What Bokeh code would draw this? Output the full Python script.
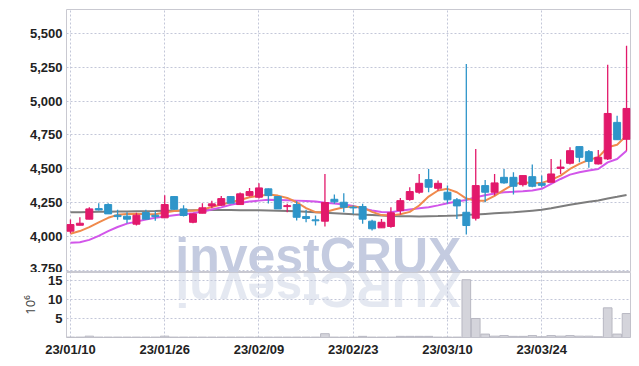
import math
from bokeh.plotting import figure
from bokeh.models import ColumnDataSource, FixedTicker, NumeralTickFormatter, Range1d, Label
from bokeh.layouts import column
from bokeh.embed import file_html
from bokeh.resources import INLINE
from bokeh.core.properties import value

# ---------------- data ----------------
dates = ["23/01/10", "23/01/11", "23/01/12", "23/01/13", "23/01/16", "23/01/17", "23/01/18", "23/01/19", "23/01/20", "23/01/25",
         "23/01/26", "23/01/27", "23/01/30", "23/01/31", "23/02/01", "23/02/02", "23/02/03", "23/02/06", "23/02/07", "23/02/08",
         "23/02/09", "23/02/10", "23/02/13", "23/02/14", "23/02/15", "23/02/16", "23/02/17", "23/02/20", "23/02/21", "23/02/22",
         "23/02/23", "23/02/24", "23/02/27", "23/02/28", "23/03/02", "23/03/03", "23/03/06", "23/03/07", "23/03/08", "23/03/09",
         "23/03/10", "23/03/13", "23/03/14", "23/03/15", "23/03/16", "23/03/17", "23/03/20", "23/03/21", "23/03/22", "23/03/23",
         "23/03/24", "23/03/27", "23/03/28", "23/03/29", "23/03/30", "23/03/31", "23/04/03", "23/04/04", "23/04/05", "23/04/06"]

opens = [4039, 4083, 4128, 4206, 4236, 4157, 4150, 4091, 4177, 4157,
         4138, 4295, 4204, 4105, 4172, 4226, 4231, 4295, 4236, 4302,
         4290, 4352, 4295, 4221, 4236, 4147, 4123, 4113, 4275, 4253,
         4216, 4221, 4113, 4064, 4074, 4192, 4273, 4327, 4420, 4356,
         4327, 4271, 4179, 4135, 4376, 4327, 4437, 4437, 4383, 4442,
         4393, 4400, 4503, 4541, 4664, 4627, 4536, 4573, 4843, 4718]
highs = [4125, 4142, 4216, 4246, 4246, 4197, 4179, 4175, 4197, 4190,
         4305, 4300, 4231, 4170, 4246, 4265, 4300, 4300, 4325, 4359,
         4393, 4355, 4300, 4241, 4260, 4197, 4155, 4462, 4310, 4319,
         4229, 4241, 4123, 4130, 4216, 4285, 4364, 4462, 4499, 4413,
         4376, 4285, 5274, 4647, 4418, 4462, 4499, 4474, 4450, 4531,
         4450, 4573, 4568, 4659, 4664, 4639, 4639, 5269, 4892, 5409]
lows = [4022, 4083, 4128, 4192, 4167, 4123, 4098, 4081, 4125, 4116,
        4138, 4195, 4147, 4098, 4172, 4209, 4226, 4246, 4236, 4295,
        4280, 4243, 4204, 4179, 4118, 4105, 4081, 4074, 4241, 4179,
        4167, 4094, 4044, 4064, 4064, 4162, 4265, 4315, 4327, 4339,
        4241, 4130, 4015, 4118, 4253, 4302, 4389, 4310, 4369, 4364,
        4364, 4400, 4462, 4531, 4548, 4507, 4531, 4566, 4713, 4634]
closes = [4088, 4098, 4204, 4196, 4167, 4147, 4128, 4157, 4128, 4147,
          4236, 4201, 4155, 4167, 4212, 4241, 4280, 4246, 4315, 4332,
          4359, 4302, 4204, 4228, 4142, 4133, 4116, 4251, 4256, 4216,
          4211, 4128, 4057, 4105, 4175, 4265, 4332, 4393, 4364, 4393,
          4271, 4226, 4081, 4376, 4327, 4396, 4396, 4371, 4450, 4371,
          4378, 4462, 4513, 4634, 4585, 4555, 4585, 4909, 4715, 4946]

ma_short = [4020, 4040, 4069, 4105, 4138, 4160, 4167, 4168, 4165, 4165,
            4178, 4188, 4192, 4190, 4200, 4218, 4237, 4253, 4270, 4290,
            4300, 4310, 4302, 4285, 4253, 4210, 4180, 4179, 4199, 4216,
            4221, 4215, 4182, 4158, 4155, 4165, 4182, 4229, 4295, 4340,
            4352, 4327, 4280, 4265, 4265, 4300, 4345, 4385, 4400, 4396,
            4396, 4418, 4450, 4499, 4536, 4566, 4585, 4659, 4678, 4745]
ma_mid = [3953, 3958, 3975, 4005, 4040, 4070, 4095, 4110, 4125, 4138,
          4148, 4157, 4165, 4172, 4185, 4200, 4215, 4235, 4248, 4258,
          4265, 4271, 4270, 4268, 4265, 4262, 4258, 4250, 4243, 4236,
          4225, 4207, 4192, 4181, 4180, 4190, 4200, 4208, 4216, 4230,
          4245, 4258, 4270, 4290, 4305, 4318, 4327, 4330, 4334, 4340,
          4352, 4389, 4425, 4457, 4474, 4487, 4499, 4548, 4573, 4634]
ma_long = [4180, 4180, 4181, 4182, 4183, 4184, 4185, 4186, 4187, 4188,
           4190, 4191, 4192, 4193, 4194, 4195, 4195, 4195, 4194, 4194,
           4193, 4192, 4191, 4189, 4187, 4183, 4179, 4175, 4172, 4168,
           4164, 4161, 4158, 4155, 4152, 4150, 4149, 4148, 4150, 4151,
           4153, 4156, 4160, 4163, 4167, 4171, 4175, 4179, 4185, 4191,
           4197, 4209, 4222, 4234, 4245, 4256, 4266, 4280, 4293, 4307]

volume = [0.1, 0.1, 0.35, 0.1, 0.1, 0.1, 0.1, 0.1, 0.1, 0.1,
          0.35, 0.1, 0.1, 0.1, 0.1, 0.1, 0.1, 0.1, 0.1, 0.1,
          0.1, 0.1, 0.1, 0.1, 0.1, 0.1, 0.1, 1.0, 0.1, 0.1,
          0.1, 0.3, 0.1, 0.1, 0.1, 0.3, 0.3, 0.3, 0.3, 0.1,
          0.1, 0.1, 15.2, 5.0, 0.9, 0.35, 0.5, 0.3, 0.3, 0.5,
          0.2, 0.5, 0.35, 0.5, 0.35, 0.35, 0.2, 7.8, 0.9, 6.3]

price_ticks = [3750, 4000, 4250, 4500, 4750, 5000, 5250, 5500]
vol_ticks = [5, 10, 15]
date_tick_idx = [0, 10, 20, 30, 40, 50]
watermark = "investCRUX"

# ---------------- styles ----------------
UP = "#E2196B"
DOWN = "#2E95C9"
GRID = "#c3c7d8"
FRAME = "#c9c9d1"
LABEL_FONT = "Liberation Sans"
LABEL_SIZE = "13px"
WM_COLOR = "#c4cbe0"

n = len(dates)
idx = list(range(n))
src = ColumnDataSource(dict(
    x=idx, o=opens, h=highs, l=lows, c=closes,
    top=[max(a, b) for a, b in zip(opens, closes)],
    bottom=[min(a, b) for a, b in zip(opens, closes)],
    color=[UP if c >= o else DOWN for o, c in zip(opens, closes)],
    vol=volume,
))

FW = 564
LEFT = 66
xr = Range1d(-0.42, n - 1 + 0.42)
PY0, PY1, PFH = 3734, 5677, 263
VY1, VFH = 17.1, 65

p = figure(frame_width=FW, frame_height=PFH, x_range=xr, y_range=Range1d(PY0, PY1),
           output_backend="svg", toolbar_location=None,
           min_border_left=LEFT, min_border_right=2, min_border_top=9, min_border_bottom=0)
p.background_fill_color = "white"
p.outline_line_color = FRAME
p.xaxis.visible = False
p.xgrid.ticker = FixedTicker(ticks=date_tick_idx)
p.yaxis.ticker = FixedTicker(ticks=price_ticks)
p.yaxis.formatter = NumeralTickFormatter(format="0,0")
for g in (p.xgrid, p.ygrid):
    g.grid_line_color = GRID
    g.grid_line_dash = "2 2"
    g.grid_line_width = 1
ay = p.yaxis[0]
ay.axis_line_color = None
ay.major_tick_line_color = None
ay.minor_tick_line_color = None
ay.major_tick_out = 0
ay.major_tick_in = 0
ay.major_label_standoff = 4
ay.major_label_text_font = LABEL_FONT
ay.major_label_text_font_style = "bold"
ay.major_label_text_font_size = LABEL_SIZE
ay.major_label_text_color = "#222222"

# watermark (main) -- rendered baseline sits ~15px below the anchor, so lift it
CW = {'i': .278, 'n': .611, 'v': .556, 'e': .556, 's': .556, 't': .333,
      'C': .722, 'R': .722, 'U': .722, 'X': .667}
WM_SIZE = 50
BASE_SHIFT_PX = 15
px_per_unit = FW / (xr.end - xr.start)
py_per_px = (PY1 - PY0) / PFH
wm_center_idx = 26.3
wm = Label(x=wm_center_idx, y=PY0 + (2 + BASE_SHIFT_PX) * py_per_px, text=watermark,
           text_align="center", text_baseline="alphabetic",
           text_font="Liberation Sans", text_font_style="bold", text_font_size=f"{WM_SIZE}px",
           text_color=WM_COLOR, level="underlay")
p.add_layout(wm)

p.line(idx, ma_long, line_color="#7d7d7d", line_width=2)
p.line(idx, ma_mid, line_color="#D256EA", line_width=2)
p.line(idx, ma_short, line_color="#F08A4C", line_width=2)
p.segment(x0="x", y0="h", x1="x", y1="l", line_color="color", line_width=1.3, source=src)
p.vbar(x="x", width=0.74, top="top", bottom="bottom", fill_color="color", line_color="color", source=src)

# ---------------- volume panel ----------------
v = figure(frame_width=FW, frame_height=VFH, x_range=xr, y_range=Range1d(0, VY1),
           output_backend="svg", toolbar_location=None,
           min_border_left=LEFT, min_border_right=2, min_border_top=0, min_border_bottom=2)
v.outline_line_color = FRAME
v.xaxis.ticker = FixedTicker(ticks=date_tick_idx)
v.xaxis.major_label_overrides = {i: dates[i] for i in date_tick_idx}
v.xgrid.ticker = FixedTicker(ticks=date_tick_idx)
v.yaxis.ticker = FixedTicker(ticks=vol_ticks)
for g in (v.xgrid, v.ygrid):
    g.grid_line_color = GRID
    g.grid_line_dash = "2 2"
    g.grid_line_width = 1
for ax in (v.xaxis[0], v.yaxis[0]):
    ax.axis_line_color = None
    ax.major_tick_line_color = None
    ax.minor_tick_line_color = None
    ax.major_tick_out = 0
    ax.major_tick_in = 0
    ax.major_label_text_font = LABEL_FONT
    ax.major_label_text_font_style = "bold"
    ax.major_label_text_font_size = LABEL_SIZE
    ax.major_label_text_color = "#222222"
v.xaxis.major_label_standoff = 4
v.yaxis.major_label_standoff = 4
v.yaxis.axis_label = "10⁶"
v.yaxis.axis_label_text_font = "Noto Sans"
v.yaxis.axis_label_text_font_style = "normal"
v.yaxis.axis_label_text_font_size = "13px"
v.yaxis.axis_label_text_color = "#444444"
v.yaxis.axis_label_standoff = 6

# watermark reflection (upside-down letters, left to right)
total_w = sum(CW[ch] for ch in watermark) * WM_SIZE
left_px = (wm_center_idx - xr.start) * px_per_unit - total_w / 2
rx, rt = [], []
cur = left_px
for ch in watermark:
    w = CW[ch] * WM_SIZE
    rx.append(xr.start + (cur + w / 2) / px_per_unit)
    rt.append(ch)
    cur += w
refl_y = VY1 - (BASE_SHIFT_PX + 1) * VY1 / VFH
v.text(x=rx, y=[refl_y] * len(rx), text=rt, angle=math.pi, text_align="center", text_baseline="alphabetic",
       text_font=value("Liberation Sans"), text_font_style="bold", text_font_size=f"{WM_SIZE}px",
       text_color=WM_COLOR, text_alpha=0.45, level="underlay")

v.vbar(x="x", width=0.92, top="vol", bottom=0, fill_color="#d4d4db", line_color="#b8b8c2", source=src)

layout = column(p, v, spacing=0)
open("out.html", "w").write(file_html(layout, INLINE))
